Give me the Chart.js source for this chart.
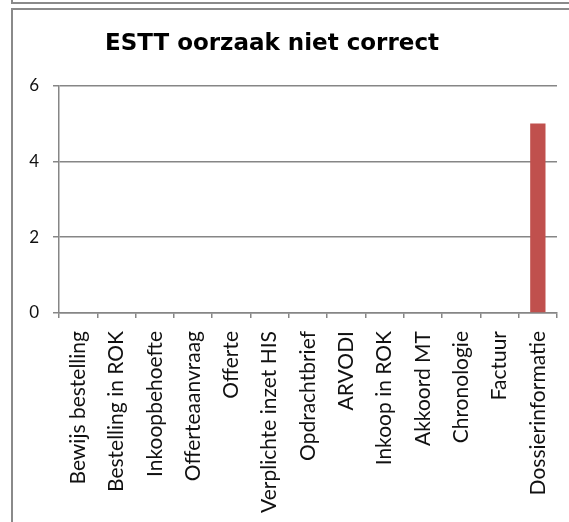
<!DOCTYPE html>
<html>
<head>
<meta charset="utf-8">
<script src="https://cdn.jsdelivr.net/npm/chart.js@4"></script>
<style>
  body { margin: 0; background: #fff; }
  #wrap { position: relative; width: 569px; height: 522px; overflow: hidden; }
  .frame { position: absolute; border-left: 2px solid #8a8a8a; }
  #f1 { left: 11px; top: -10px; width: 600px; height: 12px; border-bottom: 2px solid #8a8a8a; }
  #f2 { left: 11px; top: 8px; width: 600px; height: 600px; border-top: 2px solid #8a8a8a; }
  canvas { position: absolute; left: 0; top: 0; }
</style>
</head>
<body>
<div id="wrap">
  <div class="frame" id="f1"></div>
  <div class="frame" id="f2"></div>
  <canvas id="chart" width="569" height="522"></canvas>
</div>
<script>
// categories and values
const categories = [
    'Bewijs bestelling', 'Bestelling in ROK', 'Inkoopbehoefte', 'Offerteaanvraag',
    'Offerte', 'Verplichte inzet HIS', 'Opdrachtbrief', 'ARVODI', 'Inkoop in ROK',
    'Akkoord MT', 'Chronologie', 'Factuur', 'Dossierinformatie'
]
const counts = [0, 0, 0, 0, 0, 0, 0, 0, 0, 0, 0, 0, 5]
const yTicks = [0, 2, 4, 6]

// the title sits a bit left of the canvas centre in the original
const shiftTitle = {
    id: 'shiftTitle',
    afterLayout(chart) {
        chart.titleBlock.right = 530
        chart.titleBlock.left = 14
    }
}

const ctx = document.getElementById('chart').getContext('2d')

const chart = new Chart(ctx, {
    type: 'bar',
    data: {
        labels: categories,
        datasets: [{
            label: 'ESTT oorzaak niet correct',
            data: counts,
            backgroundColor: '#c0504d',
            barPercentage: 0.4,
            categoryPercentage: 1
        }]
    },
    plugins: [shiftTitle],
    options: {
        responsive: false,
        animation: false,
        layout: { padding: { left: 14, right: 12, top: 20, bottom: 0 } },
        plugins: {
            legend: { display: false },
            tooltip: { enabled: false },
            title: {
                display: true,
                text: 'ESTT oorzaak niet correct',
                color: '#000',
                font: { family: 'DejaVu Sans', size: 23, weight: 'bold' },
                padding: { top: 10, bottom: 28 }
            }
        },
        scales: {
            x: {
                grid: {
                    offset: true,
                    drawOnChartArea: false,
                    tickLength: 5,
                    color: '#868686',
                    lineWidth: 1.5
                },
                border: { color: '#868686', width: 1.5 },
                ticks: {
                    minRotation: 90,
                    maxRotation: 90,
                    autoSkip: false,
                    padding: 13,
                    color: '#111',
                    font: { family: 'Lato', size: 21 }
                },
                afterFit: scale => {
                    scale.height = 209
                    scale.paddingRight = 0
                    scale.paddingLeft = 0
                }
            },
            y: {
                min: 0,
                max: 6,
                afterBuildTicks: scale => {
                    scale.ticks = yTicks.map(v => ({ value: v }))
                },
                grid: {
                    tickLength: 6,
                    color: '#868686',
                    lineWidth: 1.5
                },
                border: { color: '#868686', width: 1.5 },
                ticks: {
                    padding: 14,
                    color: '#111',
                    font: { family: 'Lato', size: 17 }
                },
                afterFit: scale => { scale.width = 45 }
            }
        }
    }
})
</script>
</body>
</html>
